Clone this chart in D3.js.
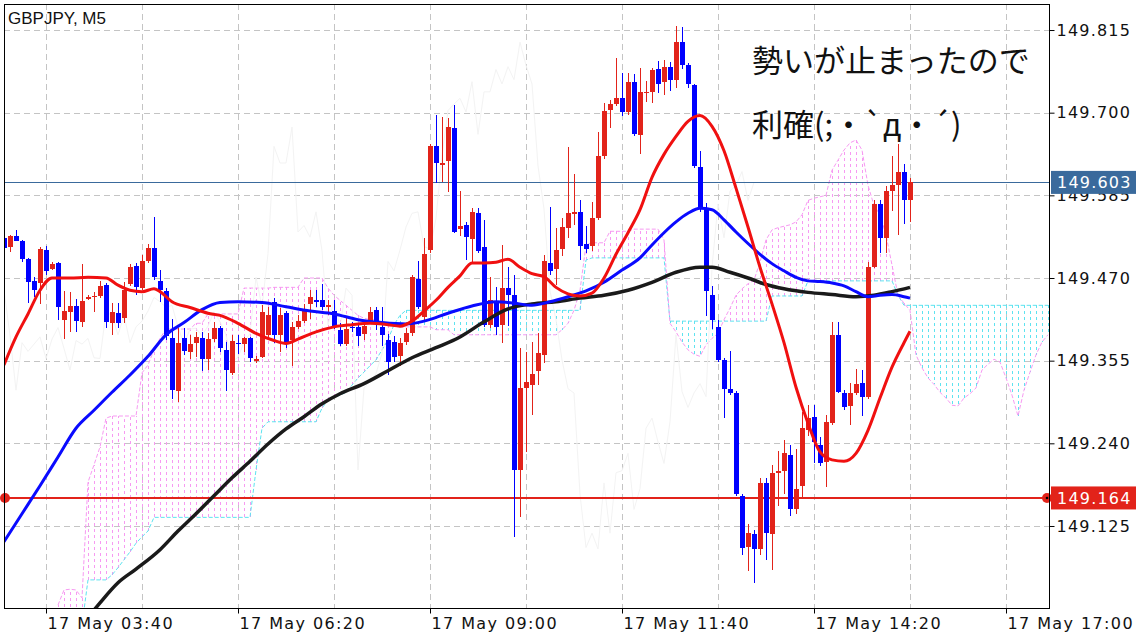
<!DOCTYPE html>
<html><head><meta charset="utf-8">
<script src="https://cdn.jsdelivr.net/npm/d3@7"></script>
<style>
html,body{margin:0;padding:0;background:#fff;}
svg{display:block;}
</style></head>
<body>
<svg id="chart" width="1136" height="640"></svg>
<script>
// ---------- data ----------
const symbolTitle = "GBPJPY, M5";
const noteLines = ["勢いが止まったので", "利確(;・`д・´)"];
const timeTickIdx = [7, 39, 71, 103, 135, 167];
const timeLabels = ["17 May 03:40", "17 May 06:20", "17 May 09:00", "17 May 11:40", "17 May 14:20", "17 May 17:00"];
const priceTicks = [149.815, 149.700, 149.585, 149.470, 149.355, 149.240, 149.125];
const bidPrice = 149.603;
const levelPrice = 149.164;

const opens = [149.526,149.513,149.529,149.521,149.496,149.466,149.463,149.509,149.482,149.491,149.412,149.423,149.431,149.409,149.441,149.443,149.445,149.460,149.408,149.422,149.414,149.461,149.487,149.456,149.493,149.512,149.466,149.452,149.386,149.313,149.386,149.367,149.379,149.386,149.357,149.385,149.401,149.370,149.338,149.380,149.378,149.386,149.355,149.360,149.391,149.437,149.391,149.421,149.384,149.402,149.410,149.434,149.440,149.440,149.430,149.424,149.397,149.378,149.402,149.402,149.392,149.409,149.425,149.402,149.384,149.381,149.361,149.381,149.393,149.468,149.416,149.509,149.654,149.627,149.633,149.678,149.538,149.544,149.524,149.561,149.513,149.405,149.435,149.405,149.456,149.446,149.203,149.317,149.321,149.341,149.363,149.491,149.483,149.511,149.540,149.559,149.562,149.517,149.514,149.553,149.640,149.704,149.712,149.720,149.701,149.742,149.669,149.728,149.729,149.761,149.743,149.764,149.746,149.798,149.766,149.739,149.625,149.568,149.447,149.402,149.356,149.316,149.310,149.167,149.096,149.114,149.093,149.185,149.114,149.199,149.202,149.224,149.148,149.180,149.258,149.277,149.238,149.214,149.268,149.391,149.310,149.292,149.310,149.324,149.304,149.486,149.573,149.526,149.591,149.600,149.618,149.578];
const highs = [149.528,149.530,149.537,149.523,149.498,149.471,149.513,149.514,149.492,149.492,149.452,149.451,149.441,149.489,149.446,149.450,149.466,149.463,149.435,149.435,149.465,149.490,149.491,149.502,149.517,149.555,149.481,149.456,149.413,149.400,149.400,149.391,149.395,149.395,149.393,149.409,149.403,149.381,149.391,149.391,149.388,149.388,149.361,149.432,149.429,149.442,149.428,149.424,149.409,149.418,149.434,149.453,149.453,149.462,149.439,149.440,149.407,149.414,149.409,149.406,149.407,149.430,149.430,149.430,149.392,149.389,149.386,149.400,149.474,149.493,149.525,149.656,149.697,149.694,149.692,149.711,149.591,149.548,149.567,149.567,149.551,149.472,149.457,149.516,149.486,149.474,149.372,149.367,149.381,149.393,149.502,149.569,149.540,149.553,149.652,149.615,149.579,149.542,149.576,149.673,149.713,149.718,149.776,149.755,149.755,149.754,149.762,149.744,149.762,149.772,149.773,149.770,149.821,149.819,149.769,149.740,149.647,149.574,149.459,149.412,149.359,149.368,149.313,149.169,149.128,149.119,149.192,149.192,149.210,149.229,149.245,149.238,149.232,149.283,149.293,149.293,149.249,149.279,149.409,149.409,149.314,149.324,149.344,149.342,149.492,149.578,149.578,149.598,149.640,149.656,149.629,149.609];
const lows = [149.510,149.506,149.521,149.492,149.435,149.444,149.434,149.474,149.481,149.412,149.385,149.395,149.395,149.402,149.439,149.423,149.442,149.400,149.391,149.400,149.407,149.459,149.446,149.453,149.491,149.467,149.437,149.384,149.301,149.298,149.363,149.357,149.360,149.340,149.342,149.381,149.367,149.313,149.335,149.364,149.367,149.353,149.352,149.359,149.384,149.380,149.367,149.372,149.348,149.399,149.407,149.413,149.429,149.425,149.418,149.399,149.375,149.375,149.395,149.375,149.384,149.406,149.398,149.375,149.335,149.353,149.348,149.377,149.389,149.427,149.412,149.505,149.602,149.603,149.589,149.533,149.528,149.495,149.491,149.505,149.402,149.401,149.391,149.379,149.403,149.110,149.138,149.228,149.279,149.321,149.352,149.474,149.460,149.500,149.526,149.544,149.495,149.505,149.508,149.551,149.635,149.678,149.709,149.695,149.697,149.667,149.643,149.715,149.714,149.728,149.725,149.730,149.735,149.761,149.735,149.623,149.562,149.417,149.399,149.353,149.275,149.307,149.167,149.085,149.062,149.045,149.085,149.078,149.064,149.153,149.169,149.139,149.142,149.164,149.250,149.212,149.208,149.179,149.265,149.310,149.286,149.265,149.307,149.278,149.302,149.484,149.505,149.505,149.563,149.530,149.545,149.548];
const closes = [149.512,149.529,149.522,149.497,149.465,149.453,149.510,149.480,149.489,149.430,149.424,149.431,149.410,149.438,149.443,149.445,149.459,149.409,149.423,149.408,149.453,149.486,149.458,149.493,149.512,149.472,149.453,149.390,149.314,149.380,149.368,149.378,149.388,149.358,149.385,149.401,149.372,149.342,149.383,149.378,149.386,149.359,149.358,149.423,149.418,149.391,149.418,149.380,149.402,149.410,149.424,149.443,149.437,149.429,149.432,149.402,149.378,149.399,149.400,149.390,149.403,149.423,149.409,149.391,149.353,149.360,149.380,149.393,149.471,149.430,149.504,149.653,149.630,149.630,149.680,149.534,149.543,149.527,149.562,149.508,149.405,149.439,149.402,149.456,149.446,149.203,149.317,149.326,149.337,149.365,149.493,149.480,149.509,149.541,149.560,149.562,149.514,149.510,149.553,149.640,149.703,149.712,149.720,149.701,149.743,149.670,149.729,149.729,149.760,149.740,149.764,149.746,149.798,149.766,149.740,149.626,149.566,149.452,149.412,149.356,149.316,149.310,149.169,149.095,149.115,149.093,149.185,149.115,149.199,149.202,149.226,149.148,149.177,149.261,149.275,149.242,149.212,149.270,149.391,149.312,149.290,149.310,149.323,149.305,149.485,149.573,149.526,149.591,149.599,149.618,149.578,149.603];

// Ichimoku cloud (per bar, starting at bar index cloudStart, extends past the last candle)
const cloudStart = 9;
const spanA = [148.987,148.987,148.987,148.987,148.987,149.050,149.050,149.050,149.050,149.057,149.067,149.078,149.089,149.101,149.110,149.118,149.137,149.137,149.137,149.137,149.137,149.137,149.137,149.137,149.137,149.137,149.137,149.137,149.137,149.137,149.137,149.137,149.137,149.203,149.261,149.270,149.270,149.270,149.270,149.270,149.270,149.270,149.270,149.270,149.289,149.300,149.304,149.307,149.311,149.321,149.331,149.339,149.348,149.356,149.370,149.384,149.405,149.418,149.425,149.425,149.425,149.425,149.425,149.425,149.425,149.425,149.425,149.425,149.425,149.425,149.425,149.425,149.425,149.425,149.425,149.425,149.425,149.425,149.425,149.425,149.425,149.425,149.425,149.425,149.425,149.425,149.425,149.425,149.495,149.498,149.498,149.498,149.498,149.498,149.498,149.498,149.498,149.498,149.498,149.498,149.498,149.498,149.410,149.410,149.410,149.410,149.410,149.410,149.410,149.410,149.410,149.410,149.410,149.410,149.410,149.410,149.410,149.410,149.410,149.445,149.445,149.445,149.445,149.445,149.445,149.466,149.466,149.466,149.466,149.466,149.466,149.466,149.466,149.466,149.466,149.466,149.466,149.466,149.466,149.466,149.446,149.432,149.432,149.432,149.432,149.432,149.432,149.432,149.432,149.432,149.432,149.432,149.432,149.432,149.432,149.432,149.432,149.432,149.432,149.432,149.432,149.432,149.432,149.432,149.432,149.432];
const spanB = [149.015,149.036,149.037,149.036,149.025,149.186,149.210,149.235,149.275,149.278,149.278,149.278,149.278,149.278,149.338,149.349,149.370,149.386,149.399,149.399,149.399,149.399,149.399,149.407,149.407,149.420,149.420,149.420,149.420,149.420,149.420,149.456,149.456,149.456,149.456,149.456,149.457,149.457,149.457,149.457,149.457,149.470,149.470,149.470,149.470,149.456,149.446,149.439,149.432,149.425,149.418,149.414,149.412,149.412,149.409,149.405,149.403,149.402,149.402,149.402,149.402,149.402,149.402,149.398,149.398,149.398,149.391,149.391,149.391,149.391,149.391,149.391,149.391,149.391,149.391,149.391,149.391,149.391,149.391,149.391,149.391,149.391,149.391,149.391,149.398,149.407,149.425,149.453,149.516,149.519,149.519,149.519,149.535,149.535,149.535,149.535,149.538,149.538,149.538,149.538,149.538,149.523,149.407,149.395,149.381,149.370,149.364,149.361,149.377,149.386,149.393,149.412,149.428,149.446,149.455,149.462,149.467,149.492,149.523,149.537,149.540,149.542,149.544,149.548,149.558,149.578,149.581,149.583,149.585,149.620,149.634,149.648,149.658,149.662,149.648,149.599,149.571,149.558,149.530,149.488,149.446,149.435,149.425,149.363,149.345,149.331,149.322,149.311,149.303,149.293,149.292,149.303,149.309,149.317,149.342,149.350,149.357,149.353,149.331,149.307,149.278,149.314,149.339,149.363,149.381,149.391];

// Moving averages (values read at the listed bar indices)
const redIdx = [0,2,4,6,8,11,14,17,19,21,23,25,26,28,31,34,36,39,42,45,47,49,52,55,58,61,64,66,68,70,72,74,76,78,80,82,84,86,88,90,92,94,96,98,100,102,104,106,108,110,112,114,116,118,120,122,124,126,128,130,132,134,136,138,140,142,144,146,148,150,151];
const redMA = [149.349,149.388,149.420,149.453,149.470,149.470,149.471,149.470,149.460,149.453,149.451,149.455,149.451,149.437,149.429,149.421,149.418,149.407,149.393,149.383,149.379,149.385,149.395,149.402,149.405,149.407,149.405,149.403,149.410,149.424,149.439,149.457,149.473,149.491,149.491,149.492,149.496,149.485,149.476,149.472,149.457,149.448,149.445,149.449,149.470,149.503,149.533,149.565,149.610,149.642,149.667,149.688,149.696,149.681,149.647,149.595,149.541,149.485,149.434,149.380,149.318,149.268,149.228,149.217,149.215,149.226,149.258,149.303,149.346,149.380,149.396];
const blueIdx = [0,3,6,9,12,15,18,21,24,27,30,33,36,39,43,47,51,55,59,63,67,70,74,78,82,85,88,91,94,97,100,103,106,108,110,112,114,116,118,120,122,124,126,128,130,132,134,136,138,140,142,144,146,148,150,151];
const blueMA = [149.103,149.142,149.181,149.221,149.261,149.286,149.311,149.335,149.361,149.391,149.408,149.426,149.436,149.437,149.436,149.430,149.424,149.420,149.412,149.408,149.406,149.410,149.421,149.431,149.437,149.435,149.432,149.437,149.444,149.452,149.464,149.481,149.498,149.516,149.533,149.548,149.560,149.567,149.565,149.551,149.534,149.518,149.503,149.490,149.480,149.471,149.466,149.465,149.463,149.459,149.451,149.444,149.446,149.447,149.444,149.442];
const blackIdx = [15,16,19,22,26,29,32,35,38,41,44,47,50,53,56,60,64,68,72,76,80,84,88,92,96,100,104,108,112,116,118,121,124,127,130,134,138,142,145,148,151];
const blackMA = [149.008,149.018,149.046,149.065,149.092,149.118,149.142,149.167,149.192,149.215,149.239,149.260,149.277,149.295,149.309,149.323,149.341,149.359,149.373,149.388,149.409,149.427,149.434,149.437,149.442,149.446,149.453,149.464,149.478,149.485,149.485,149.478,149.470,149.461,149.455,149.450,149.447,149.444,149.446,149.451,149.457];
const chikouShift = 26;

// ---------- layout ----------
const L = 4, T = 4, R = 1050, B = 608;
const svg = d3.select("#chart");
const x = d3.scaleLinear().domain([0, (R - L) / 6]).range([L, R]);
const y = d3.scaleLinear().domain([149.8512, 149.0109]).range([T, B]);

const C = {
  bull: "#e2231a", bear: "#0000ff", redMA: "#f01010", blueMA: "#0a0aff", blackMA: "#1a1a1a",
  grid: "#c4c4c4", pink: "#f79af2", cyan: "#5ee3f0", bid: "#3a6a9c", level: "#e2231a"
};

svg.append("rect").attr("width", 1136).attr("height", 640).attr("fill", "#fff");
svg.append("defs").append("clipPath").attr("id", "plotClip")
  .append("rect").attr("x", L).attr("y", T).attr("width", R - L).attr("height", B - T);

const plot = svg.append("g").attr("clip-path", "url(#plotClip)");

// grid
const vGrid = d3.range(7, 175, 16);
plot.append("g").selectAll("line").data(priceTicks).join("line")
  .attr("x1", L).attr("x2", R)
  .attr("y1", d => Math.round(y(d)) + 0.5).attr("y2", d => Math.round(y(d)) + 0.5)
  .attr("stroke", C.grid).attr("stroke-dasharray", "6,4");
plot.append("g").selectAll("line").data(vGrid).join("line")
  .attr("x1", d => Math.round(x(d)) + 0.5).attr("x2", d => Math.round(x(d)) + 0.5)
  .attr("y1", T).attr("y2", B)
  .attr("stroke", C.grid).attr("stroke-dasharray", "6,4");

// cloud hatch
const cloud = spanA.map((a, k) => ({ i: cloudStart + k, a, b: spanB[k] }));
plot.append("g").attr("shape-rendering", "crispEdges").selectAll("line").data(cloud).join("line")
  .attr("x1", d => Math.round(x(d.i)) + 0.5).attr("x2", d => Math.round(x(d.i)) + 0.5)
  .attr("y1", d => y(d.a)).attr("y2", d => y(d.b))
  .attr("stroke", d => d.a >= d.b ? C.cyan : C.pink)
  .attr("stroke-width", 1).attr("stroke-dasharray", "3,3");
const spanLine = key => d3.line().x(d => x(d.i)).y(d => y(d[key]));
plot.append("path").datum(cloud).attr("d", spanLine("a"))
  .attr("fill", "none").attr("stroke", C.cyan).attr("stroke-width", 1).attr("stroke-dasharray", "4,2");
plot.append("path").datum(cloud).attr("d", spanLine("b"))
  .attr("fill", "none").attr("stroke", C.pink).attr("stroke-width", 1).attr("stroke-dasharray", "4,2");

// chikou span (closes shifted back)
const chikou = closes.map((c, i) => ({ i: i - chikouShift, v: c })).filter(d => d.i >= 0);
plot.append("path").datum(chikou)
  .attr("d", d3.line().x(d => x(d.i)).y(d => y(d.v)))
  .attr("fill", "none").attr("stroke", "#f3f3f3").attr("stroke-width", 1);

// horizontal price lines
plot.append("line").attr("x1", L).attr("x2", R)
  .attr("y1", Math.round(y(bidPrice)) + 0.5).attr("y2", Math.round(y(bidPrice)) + 0.5)
  .attr("stroke", C.bid).attr("stroke-width", 1);
plot.append("line").attr("x1", L).attr("x2", R)
  .attr("y1", Math.round(y(levelPrice))).attr("y2", Math.round(y(levelPrice)))
  .attr("stroke", C.level).attr("stroke-width", 2);

// candles
const bars = opens.map((o, i) => ({ i, o, h: highs[i], l: lows[i], c: closes[i] }));
const cg = plot.append("g").attr("shape-rendering", "crispEdges");
const candle = cg.selectAll("g").data(bars).join("g");
candle.append("rect")
  .attr("x", d => Math.round(x(d.i))).attr("width", 1)
  .attr("y", d => y(d.h)).attr("height", d => Math.max(1, y(d.l) - y(d.h)))
  .attr("fill", d => d.c >= d.o ? C.bull : C.bear);
candle.append("rect")
  .attr("x", d => Math.round(x(d.i)) - 2).attr("width", 5)
  .attr("y", d => y(Math.max(d.o, d.c)))
  .attr("height", d => Math.max(1, Math.abs(y(d.o) - y(d.c))))
  .attr("fill", d => d.c >= d.o ? C.bull : C.bear);

// moving averages
const maLine = d3.line().x(d => x(d[0])).y(d => y(d[1])).curve(d3.curveMonotoneX);
[[blackIdx, blackMA, C.blackMA, 3.5], [blueIdx, blueMA, C.blueMA, 3], [redIdx, redMA, C.redMA, 3]]
  .forEach(([idx, vals, col, w]) => {
    plot.append("path").datum(idx.map((i, k) => [i, vals[k]]))
      .attr("d", maLine).attr("fill", "none").attr("stroke", col)
      .attr("stroke-width", w).attr("stroke-linejoin", "round");
  });

// level markers
svg.append("circle").attr("cx", 5).attr("cy", y(levelPrice)).attr("r", 5).attr("fill", C.level);
svg.append("circle").attr("cx", R - 3).attr("cy", y(levelPrice)).attr("r", 5).attr("fill", C.level);
svg.append("circle").attr("cx", R - 3).attr("cy", y(levelPrice)).attr("r", 1.3).attr("fill", "#000");

// frame
svg.append("rect").attr("x", L + 0.5).attr("y", T + 0.5).attr("width", R - L - 1).attr("height", B - T)
  .attr("fill", "none").attr("stroke", "#000").attr("stroke-width", 1);

// axes
const axisFont = "'DejaVu Sans', Verdana, sans-serif";
const yAxis = svg.append("g").attr("transform", `translate(${R - 0.5},0)`)
  .call(d3.axisRight(y).tickValues(priceTicks).tickFormat(d3.format(".3f")).tickSize(5).tickPadding(2));
yAxis.select(".domain").remove();
yAxis.selectAll("line").attr("stroke", "#000");
yAxis.selectAll("text").attr("font-family", axisFont).attr("font-size", 16)
  .attr("letter-spacing", "1.2px").attr("fill", "#111");

const xAxis = svg.append("g").attr("transform", `translate(0,${B + 0.5})`)
  .call(d3.axisBottom(x).tickValues(timeTickIdx).tickFormat((d, k) => timeLabels[k]).tickSize(5).tickPadding(4));
xAxis.select(".domain").remove();
xAxis.selectAll("line").attr("stroke", "#000");
xAxis.selectAll("text").attr("font-family", axisFont).attr("font-size", 16)
  .attr("letter-spacing", "1.4px").attr("fill", "#111")
  .attr("text-anchor", "start").attr("x", 1);

// price boxes (the current-bid box sits over the 149.585 label, as in the terminal)
function priceBox(p, fill) {
  const yy = y(p);
  svg.append("rect").attr("x", R + 1).attr("y", yy - 11.5).attr("width", 1136 - R - 1).attr("height", 23).attr("fill", fill);
  svg.append("text").attr("x", R + 7).attr("y", yy).attr("dy", "0.36em")
    .attr("font-family", axisFont).attr("font-size", 16).attr("letter-spacing", "1.2px")
    .attr("fill", "#fff").text(d3.format(".3f")(p));
}
priceBox(bidPrice, C.bid);
priceBox(levelPrice, C.level);

// title
svg.append("text").attr("x", 8).attr("y", 24).attr("font-family", "'Liberation Sans', Arial, sans-serif")
  .attr("font-size", 17).attr("fill", "#111").text(symbolTitle);

// note
svg.append("g").selectAll("text").data(noteLines).join("text")
  .attr("x", 752).attr("y", (d, k) => 72 + k * 64)
  .attr("font-family", "'Noto Sans CJK JP', sans-serif").attr("font-size", 31).attr("fill", "#111")
  .text(d => d);
</script>
</body></html>
